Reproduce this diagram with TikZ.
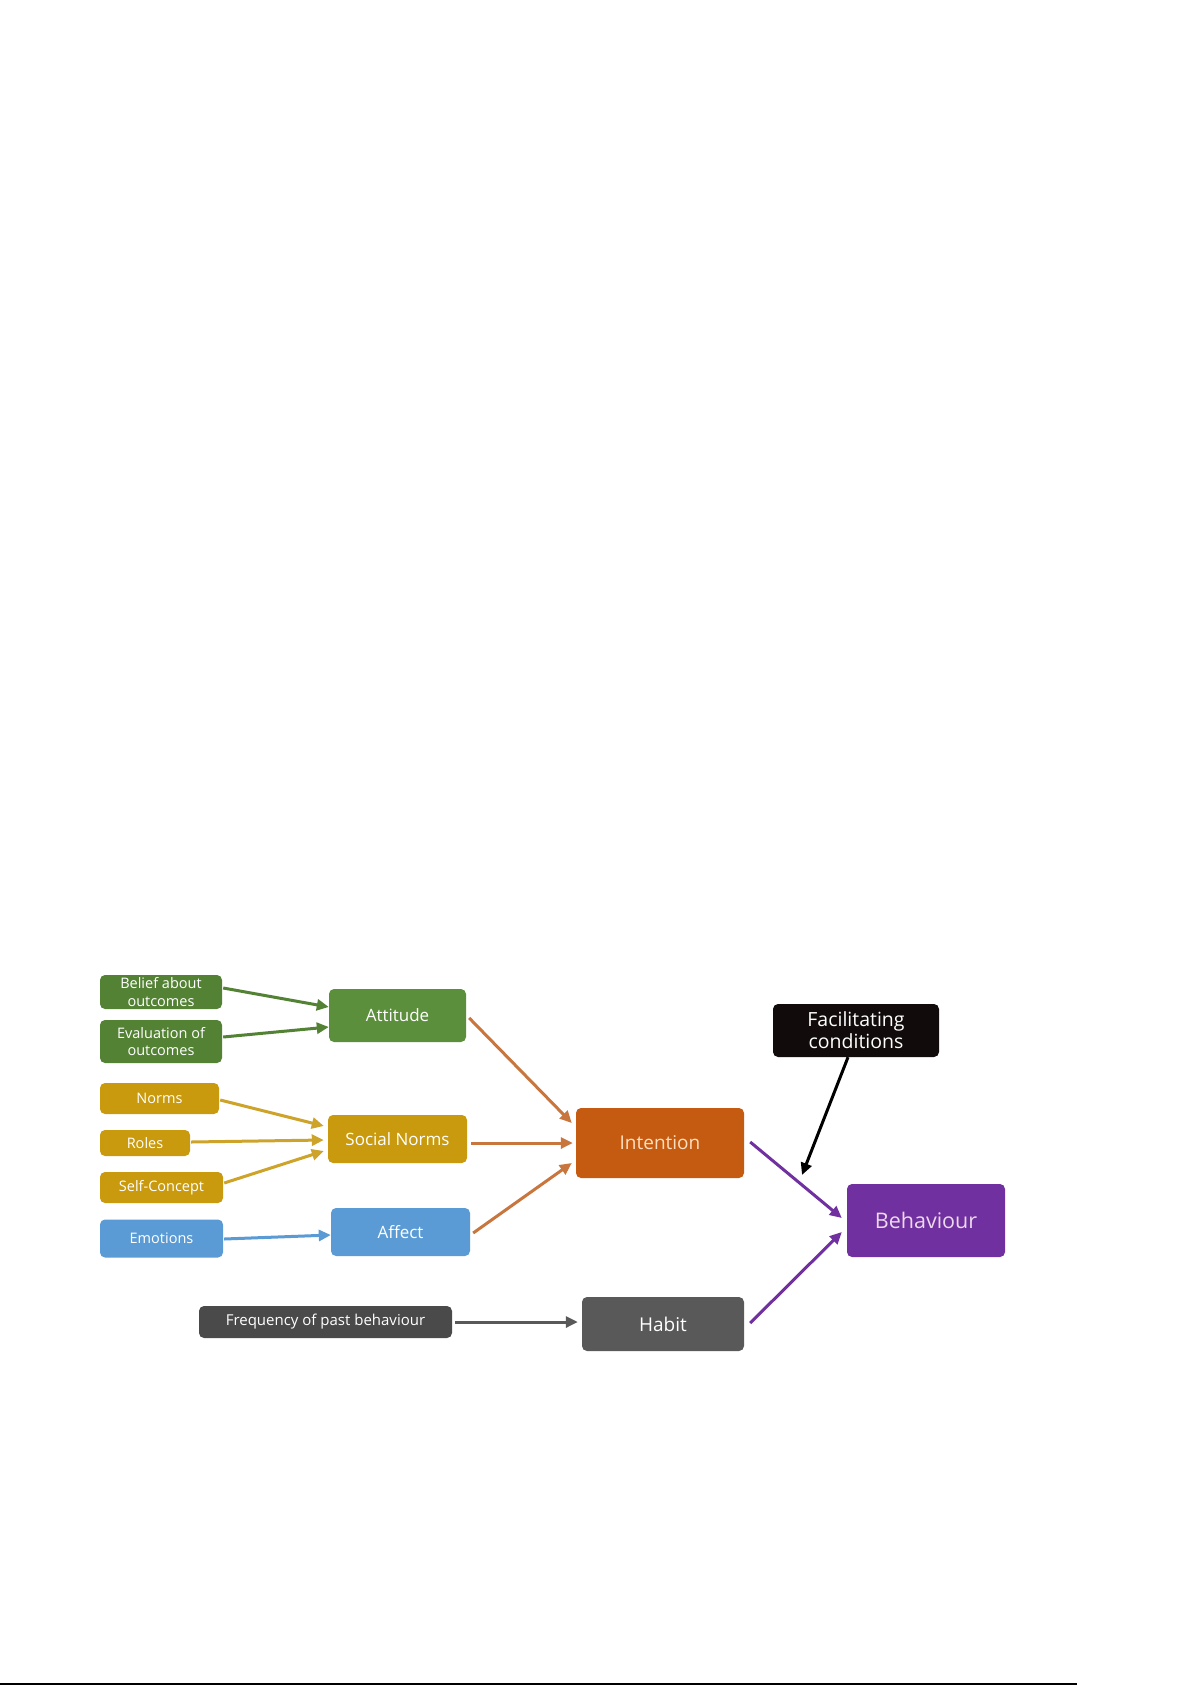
\documentclass[tikz,border=0pt]{standalone}
\usepackage{fontspec}
\setmainfont{Open Sans}
\usetikzlibrary{arrows.meta}
\definecolor{cgreen}{HTML}{548235}
\definecolor{cgreenA}{HTML}{5B8F3C}
\definecolor{cgold}{HTML}{C99A0E}
\definecolor{cgoldA}{HTML}{CDA32A}
\definecolor{cblue}{HTML}{5B9BD5}
\definecolor{corange}{HTML}{C55A11}
\definecolor{corangeA}{HTML}{C8763E}
\definecolor{cgrey}{HTML}{595959}
\definecolor{cdark}{HTML}{4A4A4A}
\definecolor{cblack}{HTML}{110B0B}
\definecolor{cpurple}{HTML}{7030A0}
\tikzset{
  box/.style={draw=none, rounded corners=5pt, text=white, align=center, inner sep=0pt, font=\fontsize{14.5}{17.5}\selectfont},
  mid/.style={font=\fontsize{17}{18}\selectfont},
  arr/.style={line width=3pt, -{Triangle[length=12pt,width=11pt]}},
}
\begin{document}
\begin{tikzpicture}[x=1pt,y=-1pt]
\useasboundingbox[fill=white] (0,0) rectangle (1192,1685);
% left column
\node[box, fill=cgreen, minimum width=122, minimum height=34] (belief) at (161,992) {Belief about\\outcomes};
\node[box, fill=cgreen, minimum width=122, minimum height=43] (eval) at (161,1041.5) {Evaluation of\\outcomes};
\node[box, fill=cgold, minimum width=119, minimum height=31] (norms) at (159.5,1098.5) {Norms};
\node[box, fill=cgold, minimum width=90, minimum height=26] (roles) at (145,1143) {Roles};
\node[box, fill=cgold, minimum width=123, minimum height=31] (self) at (161.5,1187.5) {Self-Concept};
\node[box, fill=cblue, minimum width=123, minimum height=38] (emo) at (161.5,1238.5) {Emotions};
\node[box, fill=cdark, minimum width=253, minimum height=32, font=\fontsize{15}{15}\selectfont] (freq) at (325.5,1322) {Frequency of past behaviour};
% middle column
\node[box, mid, fill=cgreenA, minimum width=137, minimum height=53] (att) at (397.5,1015.5) {Attitude};
\node[box, mid, fill=cgold, minimum width=139, minimum height=48] (sn) at (397.5,1139) {Social Norms};
\node[box, mid, fill=cblue, minimum width=139, minimum height=48] (aff) at (400.5,1232) {Affect};
% intention / habit
\node[box, fill=corange, minimum width=168, minimum height=70, text={orange!25}, font=\fontsize{19}{20}\selectfont] (int) at (660,1143) {Intention};
\node[box, fill=cgrey, minimum width=162, minimum height=54, font=\fontsize{19}{20}\selectfont] (habit) at (663,1324) {Habit};
% right
\node[box, fill=cblack, minimum width=166, minimum height=53, font=\fontsize{19.5}{22}\selectfont] (fac) at (856,1030.5) {Facilitating\\conditions};
\node[box, fill=cpurple, minimum width=158, minimum height=73, text={violet!15}, font=\fontsize{21.5}{22}\selectfont] (beh) at (926,1220.5) {Behaviour};
% arrows
\draw[arr, draw=cgreen] ([xshift=1pt]belief.east |- 0,988) -- (att.west |- 0,1007);
\draw[arr, draw=cgreen] ([xshift=1pt]eval.east |- 0,1037) -- (att.west |- 0,1027);
\draw[arr, draw=cgoldA] ([xshift=1pt]norms.east |- 0,1100) -- ([xshift=-4pt]sn.west |- 0,1126);
\draw[arr, draw=cgoldA] ([xshift=1pt]roles.east |- 0,1142) -- ([xshift=-4pt]sn.west |- 0,1140);
\draw[arr, draw=cgoldA] ([xshift=1pt]self.east |- 0,1183) -- ([xshift=-4pt]sn.west |- 0,1151);
\draw[arr, draw=cblue] ([xshift=1pt]emo.east |- 0,1239) -- (aff.west |- 0,1235);
\draw[arr, draw=corangeA] ([xshift=3pt]att.east |- 0,1018) -- ([xshift=-4pt]int.west |- 0,1123);
\draw[arr, draw=corangeA] ([xshift=4pt]sn.east |- 0,1143) -- ([xshift=-3pt]int.west |- 0,1143);
\draw[arr, draw=corangeA] ([xshift=3pt]aff.east |- 0,1233) -- ([xshift=-4pt]int.west |- 0,1163);
\draw[arr, draw=cgrey] ([xshift=3pt]freq.east |- 0,1322) -- ([xshift=-4pt]habit.west |- 0,1322);
\draw[arr, draw=cpurple] ([xshift=6pt]int.east |- 0,1142) -- ([xshift=-5pt]beh.west |- 0,1218);
\draw[arr, draw=cpurple] ([xshift=6pt]habit.east |- 0,1323) -- ([xshift=-5pt]beh.west |- 0,1232);
\coordinate (facend) at (802,1175);
\draw[arr, draw=black] (fac.south -| 848,0) -- (facend);
% bottom rule
\coordinate (ruleL) at (0,1684);
\coordinate (ruleR) at (1077,1684);
\draw[line width=1.2pt] (ruleL) -- (ruleR);
\end{tikzpicture}
\end{document}
